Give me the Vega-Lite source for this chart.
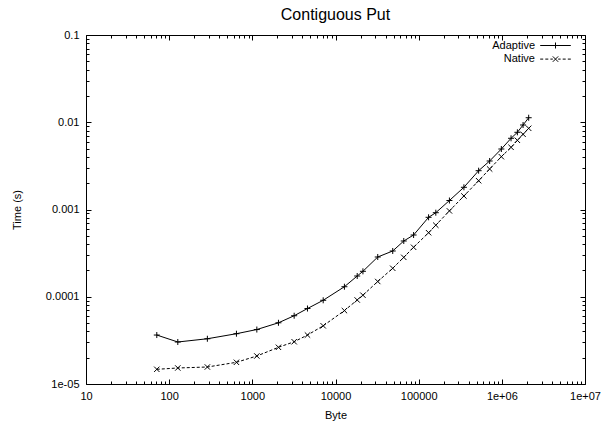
{
  "$schema": "https://vega.github.io/schema/vega-lite/v6.json",
  "autosize": "none",
  "width": 499,
  "height": 349,
  "padding": {"left": 86, "top": 35, "right": 25, "bottom": 42},
  "background": "white",
  "title": {"text": "Contiguous Put", "fontSize": 16, "font": "Liberation Sans", "fontWeight": "normal", "anchor": "middle", "frame": "group", "baseline": "alphabetic", "offset": 14, "dy": 21, "color": "black"},
  "config": {
    "view": {"stroke": "black", "strokeWidth": 1},
    "axis": {"domain": false, "grid": false, "tickColor": "black", "tickWidth": 1, "labelColor": "black", "labelFont": "Liberation Sans", "labelFontSize": 11, "titleFont": "Liberation Sans", "titleFontSize": 11, "titleFontWeight": "normal", "titleColor": "black"},
    "legend": {"labelFont": "Liberation Sans", "labelFontSize": 11, "labelColor": "black"}
  },
  "data": {"values": [
    {"series": "Adaptive", "bytes": 71, "time": 3.64e-5},
    {"series": "Adaptive", "bytes": 127, "time": 3.03e-5},
    {"series": "Adaptive", "bytes": 288, "time": 3.30e-5},
    {"series": "Adaptive", "bytes": 644, "time": 3.77e-5},
    {"series": "Adaptive", "bytes": 1133, "time": 4.21e-5},
    {"series": "Adaptive", "bytes": 2061, "time": 5.03e-5},
    {"series": "Adaptive", "bytes": 3184, "time": 6.06e-5},
    {"series": "Adaptive", "bytes": 4603, "time": 7.33e-5},
    {"series": "Adaptive", "bytes": 7112, "time": 9.11e-5},
    {"series": "Adaptive", "bytes": 12800, "time": 1.303e-4},
    {"series": "Adaptive", "bytes": 18240, "time": 1.729e-4},
    {"series": "Adaptive", "bytes": 21370, "time": 1.957e-4},
    {"series": "Adaptive", "bytes": 32200, "time": 2.855e-4},
    {"series": "Adaptive", "bytes": 48770, "time": 3.345e-4},
    {"series": "Adaptive", "bytes": 66200, "time": 4.355e-4},
    {"series": "Adaptive", "bytes": 86900, "time": 5.10e-4},
    {"series": "Adaptive", "bytes": 131600, "time": 8.14e-4},
    {"series": "Adaptive", "bytes": 160700, "time": 9.19e-4},
    {"series": "Adaptive", "bytes": 234300, "time": 1.268e-3},
    {"series": "Adaptive", "bytes": 350000, "time": 1.797e-3},
    {"series": "Adaptive", "bytes": 526000, "time": 2.785e-3},
    {"series": "Adaptive", "bytes": 713600, "time": 3.597e-3},
    {"series": "Adaptive", "bytes": 986600, "time": 4.935e-3},
    {"series": "Adaptive", "bytes": 1291000, "time": 6.55e-3},
    {"series": "Adaptive", "bytes": 1538000, "time": 7.67e-3},
    {"series": "Adaptive", "bytes": 1800000, "time": 9.30e-3},
    {"series": "Adaptive", "bytes": 2103000, "time": 1.127e-2},
    {"series": "Native", "bytes": 71, "time": 1.474e-5},
    {"series": "Native", "bytes": 127, "time": 1.526e-5},
    {"series": "Native", "bytes": 288, "time": 1.566e-5},
    {"series": "Native", "bytes": 644, "time": 1.773e-5},
    {"series": "Native", "bytes": 1133, "time": 2.094e-5},
    {"series": "Native", "bytes": 2061, "time": 2.634e-5},
    {"series": "Native", "bytes": 3184, "time": 3.05e-5},
    {"series": "Native", "bytes": 4603, "time": 3.64e-5},
    {"series": "Native", "bytes": 7112, "time": 4.645e-5},
    {"series": "Native", "bytes": 12800, "time": 6.94e-5},
    {"series": "Native", "bytes": 18240, "time": 9.18e-5},
    {"series": "Native", "bytes": 21370, "time": 1.042e-4},
    {"series": "Native", "bytes": 32200, "time": 1.496e-4},
    {"series": "Native", "bytes": 48770, "time": 2.12e-4},
    {"series": "Native", "bytes": 66200, "time": 2.83e-4},
    {"series": "Native", "bytes": 86900, "time": 3.69e-4},
    {"series": "Native", "bytes": 131600, "time": 5.42e-4},
    {"series": "Native", "bytes": 160700, "time": 6.61e-4},
    {"series": "Native", "bytes": 234300, "time": 9.64e-4},
    {"series": "Native", "bytes": 350000, "time": 1.428e-3},
    {"series": "Native", "bytes": 526000, "time": 2.138e-3},
    {"series": "Native", "bytes": 713600, "time": 2.912e-3},
    {"series": "Native", "bytes": 986600, "time": 4.03e-3},
    {"series": "Native", "bytes": 1291000, "time": 5.16e-3},
    {"series": "Native", "bytes": 1538000, "time": 6.21e-3},
    {"series": "Native", "bytes": 1800000, "time": 7.28e-3},
    {"series": "Native", "bytes": 2103000, "time": 8.52e-3}
  ]},
  "resolve": {"axis": {"x": "independent", "y": "independent"}},
  "layer": [
    {
      "transform": [{"filter": {"field": "series", "equal": "Adaptive"}}],
      "mark": {"type": "line", "color": "black", "strokeWidth": 1},
      "encoding": {
        "x": {"field": "bytes", "type": "quantitative", "scale": {"type": "log", "domain": [10, 10000000], "nice": false},
          "axis": {"orient": "bottom", "values": [10, 100, 1000, 10000, 100000, 1000000, 10000000], "tickSize": -5, "labelPadding": 11, "labelFlush": false, "labelOverlap": false,
            "labelExpr": "datum.value >= 1000000 ? replace(format(datum.value, '.0e'), 'e+', 'e+0') : format(datum.value, 'd')",
            "title": "Byte", "titleX": 249.5, "titleY": 34, "titleBaseline": "alphabetic", "titleAlign": "center"}},
        "y": {"field": "time", "type": "quantitative", "scale": {"type": "log", "domain": [0.00001, 0.1], "nice": false},
          "axis": {"orient": "left", "values": [0.00001, 0.0001, 0.001, 0.01, 0.1], "tickSize": -5, "labelPadding": 12, "labelFlush": false, "labelOverlap": false,
            "labelExpr": "datum.value < 0.00002 ? '1e-05' : format(datum.value, '~r')",
            "title": "Time (s)", "titleX": -66, "titleY": 174.5, "titleAngle": -90, "titleBaseline": "alphabetic", "titleAlign": "center"}}
      }
    },
    {
      "transform": [{"filter": {"field": "series", "equal": "Native"}}],
      "mark": {"type": "line", "color": "black", "strokeWidth": 1, "strokeDash": [3, 2]},
      "encoding": {
        "x": {"field": "bytes", "type": "quantitative", "axis": {"orient": "top", "values": [10, 100, 1000, 10000, 100000, 1000000, 10000000], "tickSize": -5, "labels": false, "title": null}},
        "y": {"field": "time", "type": "quantitative", "axis": {"orient": "right", "values": [0.00001, 0.0001, 0.001, 0.01, 0.1], "tickSize": -5, "labels": false, "title": null}}
      }
    },
    {
      "transform": [{"filter": {"field": "series", "equal": "Adaptive"}}],
      "mark": {"type": "point", "shape": "M-1,0H1M0,-1V1", "size": 36, "filled": false, "color": "black", "strokeWidth": 1, "opacity": 1},
      "encoding": {
        "x": {"field": "bytes", "type": "quantitative", "axis": {"orient": "bottom", "values": [20,30,40,50,60,70,80,90,200,300,400,500,600,700,800,900,2000,3000,4000,5000,6000,7000,8000,9000,20000,30000,40000,50000,60000,70000,80000,90000,200000,300000,400000,500000,600000,700000,800000,900000,2000000,3000000,4000000,5000000,6000000,7000000,8000000,9000000], "tickSize": -3, "labels": false, "title": null}},
        "y": {"field": "time", "type": "quantitative", "axis": {"orient": "left", "values": [0.00002,0.00003,0.00004,0.00005,0.00006,0.00007,0.00008,0.00009,0.0002,0.0003,0.0004,0.0005,0.0006,0.0007,0.0008,0.0009,0.002,0.003,0.004,0.005,0.006,0.007,0.008,0.009,0.02,0.03,0.04,0.05,0.06,0.07,0.08,0.09], "tickSize": -3, "labels": false, "title": null}}
      }
    },
    {
      "transform": [{"filter": {"field": "series", "equal": "Native"}}],
      "mark": {"type": "point", "shape": "M-0.9,-0.9L0.9,0.9M-0.9,0.9L0.9,-0.9", "size": 36, "filled": false, "color": "black", "strokeWidth": 1, "opacity": 1},
      "encoding": {
        "x": {"field": "bytes", "type": "quantitative", "axis": {"orient": "top", "values": [20,30,40,50,60,70,80,90,200,300,400,500,600,700,800,900,2000,3000,4000,5000,6000,7000,8000,9000,20000,30000,40000,50000,60000,70000,80000,90000,200000,300000,400000,500000,600000,700000,800000,900000,2000000,3000000,4000000,5000000,6000000,7000000,8000000,9000000], "tickSize": -3, "labels": false, "title": null}},
        "y": {"field": "time", "type": "quantitative", "axis": {"orient": "right", "values": [0.00002,0.00003,0.00004,0.00005,0.00006,0.00007,0.00008,0.00009,0.0002,0.0003,0.0004,0.0005,0.0006,0.0007,0.0008,0.0009,0.002,0.003,0.004,0.005,0.006,0.007,0.008,0.009,0.02,0.03,0.04,0.05,0.06,0.07,0.08,0.09], "tickSize": -3, "labels": false, "title": null}}
      }
    },
    {
      "transform": [{"filter": {"field": "series", "equal": "none"}}],
      "mark": {"type": "point", "size": 36, "filled": false, "color": "black", "strokeWidth": 1},
      "encoding": {
        "x": {"field": "bytes", "type": "quantitative", "axis": null},
        "y": {"field": "time", "type": "quantitative", "axis": null},
        "shape": {"field": "series", "type": "nominal",
          "scale": {"domain": ["Adaptive", "Native"], "range": ["M-5.1,0H5.1M0,-1V1", "M-5.1,0H-4.1M-3.4,0H-2.4M-1.7,0H-0.9M0.9,0H1.7M2.4,0H3.4M4.1,0H5.1M-0.9,-0.9L0.9,0.9M-0.9,0.9L0.9,-0.9"]},
          "legend": {"orient": "none", "legendX": 464, "legendY": 5, "title": null, "padding": 0, "rowPadding": 1.6, "symbolSize": 36, "symbolOffset": 0, "labelAlign": "right", "labelOffset": -26, "symbolStrokeColor": "black", "symbolStrokeWidth": 1, "symbolFillColor": "transparent", "symbolOpacity": 1,
            "encode": {"symbols": {"update": {"stroke": {"value": "black"}, "fill": {"value": "transparent"}, "opacity": {"value": 1}}}}}
        }
      }
    }
  ]
}
